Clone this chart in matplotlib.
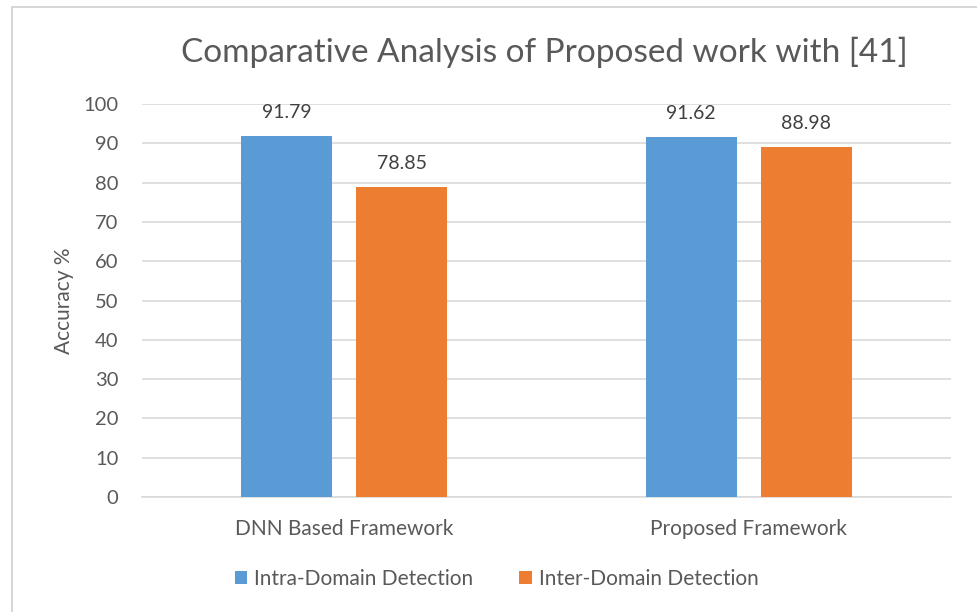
import numpy as np
import matplotlib.pyplot as plt
from matplotlib.patches import Rectangle

categories = ["DNN Based Framework", "Proposed Framework"]
series_names = ["Intra-Domain Detection", "Inter-Domain Detection"]
intra = [91.79, 91.62]
inter = [78.85, 88.98]
yticks = [0, 10, 20, 30, 40, 50, 60, 70, 80, 90, 100]

BLUE = "#5b9bd5"
ORANGE = "#ed7d31"
TEXT = "#595959"
GRID = "#d9d9d9"

plt.rcParams["font.family"] = ["Lato", "DejaVu Sans"]

fig = plt.figure(figsize=(9.78, 6.12), dpi=100)
# chart border like an office chart frame
fig.patches.append(Rectangle((12 / 978, -0.01), 1.0, 1 - 7 / 612 + 0.01,
                             transform=fig.transFigure, fill=False,
                             edgecolor="#d0d0d0", linewidth=1.2))

ax = fig.add_axes([142 / 978, 1 - 497 / 612, (951 - 142) / 978, (497 - 104) / 612])

x = np.arange(len(categories))
w = 0.225
off = 0.142
b1 = ax.bar(x - off, intra, w, color=BLUE, label=series_names[0], zorder=3)
b2 = ax.bar(x + off, inter, w, color=ORANGE, label=series_names[1], zorder=3)

for bars in (b1, b2):
    for r in bars:
        ax.annotate(f"{r.get_height():.2f}", (r.get_x() + r.get_width() / 2, r.get_height()),
                    xytext=(0, 11), textcoords="offset points", ha="center", va="bottom",
                    fontsize=14, color="#404040")

ax.set_xlim(-0.5, 1.5)
ax.set_ylim(0, 100)
ax.set_yticks(yticks)
ax.set_xticks(x)
ax.set_xticklabels(categories)
ax.yaxis.grid(True, color=GRID, linewidth=1.2, zorder=0)
ax.set_axisbelow(True)
for s in ["top", "right", "left"]:
    ax.spines[s].set_visible(False)
ax.spines["bottom"].set_color(GRID)
ax.spines["bottom"].set_linewidth(1.2)
ax.tick_params(axis="both", length=0, colors=TEXT)
ax.tick_params(axis="y", pad=17, labelsize=14.5)
ax.tick_params(axis="x", pad=16, labelsize=15)
ax.set_ylabel("Accuracy %", fontsize=15, color=TEXT, labelpad=7)

fig.text(544 / 978, 1 - 52 / 612, "Comparative Analysis of Proposed work with [41]",
         ha="center", va="center", fontsize=24, color=TEXT)

fig.legend(handles=[b1, b2], loc="center", bbox_to_anchor=(0.508, 1 - 579 / 612), ncol=2,
           frameon=False, fontsize=15, labelcolor=TEXT, handlelength=0.6, handleheight=0.6,
           handletextpad=0.35, columnspacing=2.2)

fig.savefig("out.png", dpi=100)
